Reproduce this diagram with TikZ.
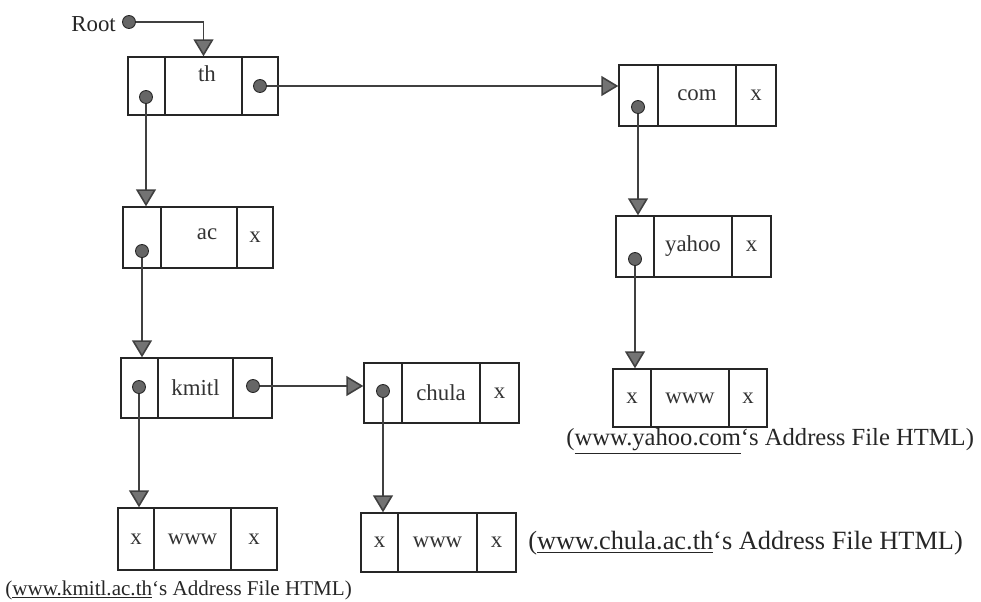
\documentclass[tikz,border=0pt]{standalone}
\usepackage{fontspec}
\setmainfont{Liberation Serif}
\usetikzlibrary{arrows.meta}
\def\px{0.02cm}
\tikzset{
    cell/.style={draw=black!85, line width=0.8pt, inner sep=0pt,
      font=\fontsize{13}{15}\selectfont, text=black!80},
    ptr/.style={circle, fill=black!60, draw=black!85, line width=0.5pt,
      minimum size=13*\px, inner sep=0pt},
    link/.style={draw=black!75, line width=0.9pt,
      -{Triangle[width=0.4cm, length=0.34cm, fill=black!55]}},
    note/.style={font=\fontsize{14}{16}\selectfont, text=black!85,
      anchor=west, inner sep=0pt}
}
\begin{document}
\begin{tikzpicture}[x=0.02cm, y=-0.02cm]
    \useasboundingbox (0,0) rectangle (981,602);
    % th
    \node[cell, minimum width=37*\px, minimum height=58*\px] (th-a) at (146.5,86) {};
    \node[cell, minimum width=77*\px, minimum height=58*\px] (th-b) at (203.5,86) {};
    \node[cell, minimum width=36*\px, minimum height=58*\px] (th-c) at (260,86) {};
    \node[font=\fontsize{13}{15}\selectfont, text=black!80] (th-t) at (207,74) {th};
    % com
    \node[cell, minimum width=39*\px, minimum height=61*\px] (com-a) at (638.5,95.5) {};
    \node[cell, minimum width=78*\px, minimum height=61*\px] (com-b) at (697,95.5) {com};
    \node[cell, minimum width=40*\px, minimum height=61*\px] (com-c) at (756,95.5) {x};
    % ac
    \node[cell, minimum width=38*\px, minimum height=61*\px] (ac-a) at (142,237.5) {};
    \node[cell, minimum width=76*\px, minimum height=61*\px] (ac-b) at (199,237.5) {};
    \node[cell, minimum width=36*\px, minimum height=61*\px] (ac-c) at (255,237.5) {x};
    \node[font=\fontsize{13}{15}\selectfont, text=black!80] (ac-t) at (207,234) {ac};
    % yahoo
    \node[cell, minimum width=38*\px, minimum height=61*\px] (yahoo-a) at (635,246.5) {};
    \node[cell, minimum width=78*\px, minimum height=61*\px] (yahoo-b) at (693,246.5) {yahoo};
    \node[cell, minimum width=39*\px, minimum height=61*\px] (yahoo-c) at (751.5,246.5) {x};
    % kmitl
    \node[cell, minimum width=37*\px, minimum height=60*\px] (kmitl-a) at (139.5,388) {};
    \node[cell, minimum width=75*\px, minimum height=60*\px] (kmitl-b) at (195.5,388) {kmitl};
    \node[cell, minimum width=39*\px, minimum height=60*\px] (kmitl-c) at (252.5,388) {};
    % chula
    \node[cell, minimum width=38*\px, minimum height=60*\px] (chula-a) at (383,393) {};
    \node[cell, minimum width=78*\px, minimum height=60*\px] (chula-b) at (441,393) {chula};
    \node[cell, minimum width=39*\px, minimum height=60*\px] (chula-c) at (499.5,393) {x};
    % www (yahoo)
    \node[cell, minimum width=38*\px, minimum height=58*\px] (wy-a) at (632,398) {x};
    \node[cell, minimum width=78*\px, minimum height=58*\px] (wy-b) at (690,398) {www};
    \node[cell, minimum width=38*\px, minimum height=58*\px] (wy-c) at (748,398) {x};
    % www (kmitl)
    \node[cell, minimum width=36*\px, minimum height=62*\px] (wk-a) at (136,539) {x};
    \node[cell, minimum width=77*\px, minimum height=62*\px] (wk-b) at (192.5,539) {www};
    \node[cell, minimum width=46*\px, minimum height=62*\px] (wk-c) at (254,539) {x};
    % www (chula)
    \node[cell, minimum width=37*\px, minimum height=59*\px] (wc-a) at (379.5,542.5) {x};
    \node[cell, minimum width=79*\px, minimum height=59*\px] (wc-b) at (437.5,542.5) {www};
    \node[cell, minimum width=39*\px, minimum height=59*\px] (wc-c) at (496.5,542.5) {x};
    % pointers
    \node[font=\fontsize{13}{15}\selectfont, text=black!85, anchor=east] (root) at (122,24) {Root};
    \node[ptr] (root-p) at (129,22) {};
    \node[ptr] (th-p) at (146,97) {};
    \node[ptr] (th-q) at (260,86) {};
    \node[ptr] (com-p) at (638,107) {};
    \node[ptr] (ac-p) at (142,251) {};
    \node[ptr] (yahoo-p) at (635,259) {};
    \node[ptr] (kmitl-p) at (139,387) {};
    \node[ptr] (kmitl-q) at (253,386) {};
    \node[ptr] (chula-p) at (383,391) {};
    \draw[link] (root-p) -| (th-b.north);
    \draw[link] (th-p) -- (th-p |- ac-a.north);
    \draw[link] (th-q) -- (th-q -| com-a.west);
    \draw[link] (com-p) -- (com-p |- yahoo-a.north);
    \draw[link] (ac-p) -- (ac-p |- kmitl-a.north);
    \draw[link] (yahoo-p) -- (yahoo-p |- wy-a.north);
    \draw[link] (kmitl-p) -- (kmitl-p |- wk-a.north);
    \draw[link] (kmitl-q) -- (kmitl-q -| chula-a.west);
    \draw[link] (chula-p) -- (chula-p |- wc-a.north);
    % notes
    \node[note] (note-yahoo) at (566,441) {(\underline{www.yahoo.com}‘s Address File HTML)};
    \node[note, font=\fontsize{15}{17}\selectfont] (note-chula) at (528,543) {(\underline{www.chula.ac.th}‘s Address File HTML)};
    \node[note, font=\fontsize{12}{14}\selectfont] (note-kmitl) at (5,590) {(\underline{www.kmitl.ac.th}‘s Address File HTML)};
\end{tikzpicture}
\end{document}
